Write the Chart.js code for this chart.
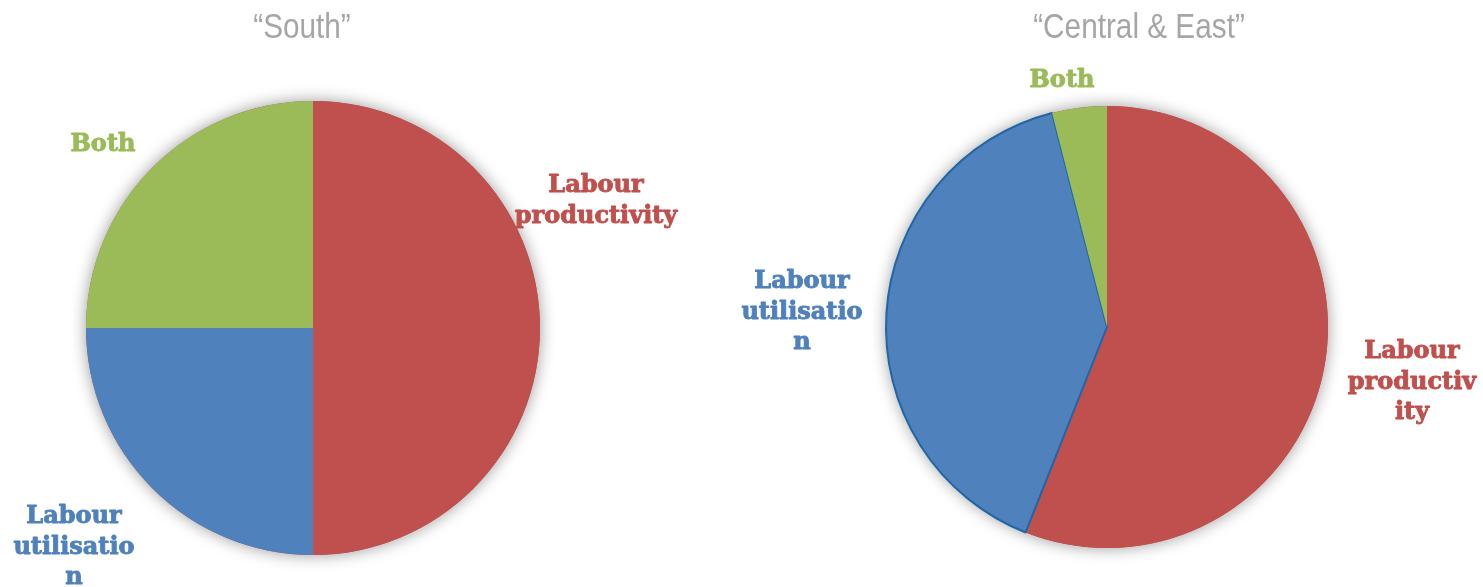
<!DOCTYPE html>
<html>
<head>
<meta charset="utf-8">
<script src="https://cdn.jsdelivr.net/npm/chart.js@4"></script>
<style>
    html, body { margin: 0; padding: 0; background: #ffffff; }
    .page { position: relative; width: 1483px; height: 587px; }
    .pie-box { position: absolute; left: 0; top: 0; width: 1483px; height: 587px; }
</style>
</head>
<body>
<div class="page">
    <div class="pie-box"><canvas id="southChart"></canvas></div>
    <div class="pie-box"><canvas id="eastChart"></canvas></div>
</div>
<script>
// slice order: productivity, utilisation, both
const categories = ["Labour productivity", "Labour utilisation", "Both"];
const southValues = [50, 25, 25];
const eastValues = [56, 40, 4];
const sliceColours = ["#C0504D", "#4F81BD", "#9BBB59"];

// wrapped label text, one entry per slice
const southLabelLines = [["Labour", "productivity"], ["Labour", "utilisatio", "n"], ["Both"]];
const eastLabelLines = [["Labour", "productiv", "ity"], ["Labour", "utilisatio", "n"], ["Both"]];

// label baselines, offset from the pie centre
const southLabelOffsets = [[283, -136], [-239, 195], [-210, -177]];
const eastLabelOffsets = [[305, 31], [-305, -39], [-45, -240]];

// draws a soft grey glow under the pie
const pieShadow = {
    id: "pieShadow",
    beforeDatasetsDraw(chart) {
        const arc = chart.getDatasetMeta(0).data[0];
        if (!arc) return;
        const ctx = chart.ctx;
        ctx.save();
        ctx.shadowColor = "rgba(0, 0, 0, 0.4)";
        ctx.shadowBlur = 16;
        ctx.fillStyle = sliceColours[0];
        ctx.beginPath();
        ctx.arc(arc.x, arc.y, arc.outerRadius, 0, Math.PI * 2);
        ctx.fill();
        ctx.restore();
    }
};

// title and slice labels, placed around the pie centre
const pieText = {
    id: "pieText",
    afterDatasetsDraw(chart, args, opts) {
        const arc = chart.getDatasetMeta(0).data[0];
        if (!arc) return;
        const ctx = chart.ctx;
        ctx.save();
        ctx.textAlign = "center";
        ctx.textBaseline = "alphabetic";

        // narrow grey title (sans squeezed horizontally)
        ctx.save();
        ctx.fillStyle = "#A6A6A6";
        ctx.font = "35px 'Liberation Sans', Arial, sans-serif";
        ctx.translate(arc.x + opts.titleShift, 38);
        ctx.scale(0.85, 1);
        ctx.fillText(opts.title, 0, 0);
        ctx.restore();

        ctx.font = "bold 24px 'DejaVu Serif', serif";
        ctx.lineWidth = 0.9;
        ctx.lineJoin = "round";
        opts.lines.forEach((lines, i) => {
            ctx.fillStyle = sliceColours[i];
            ctx.strokeStyle = sliceColours[i];
            const [dx, dy] = opts.offsets[i];
            lines.forEach((line, j) => {
                const y = arc.y + dy + j * 30.5;
                ctx.fillText(line, arc.x + dx, y);
                ctx.strokeText(line, arc.x + dx, y);
            });
        });
        ctx.restore();
    }
};

function makePie(canvasId, values, borderWidths, padding, text) {
    const ctx = document.getElementById(canvasId).getContext("2d");
    return new Chart(ctx, {
        type: "pie",
        data: {
            labels: categories,
            datasets: [{
                data: values,
                backgroundColor: sliceColours,
                borderColor: "#1F66A6",
                borderWidth: borderWidths
            }]
        },
        options: {
            responsive: true,
            maintainAspectRatio: false,
            animation: false,
            layout: { padding: padding },
            plugins: {
                legend: { display: false },
                tooltip: { enabled: false },
                pieText: text
            }
        },
        plugins: [pieShadow, pieText]
    });
}

makePie("southChart", southValues, [0, 0, 0],
    { left: 86, right: 943, top: 101, bottom: 32 },
    { title: "\u201CSouth\u201D", titleShift: -11, lines: southLabelLines, offsets: southLabelOffsets });

makePie("eastChart", eastValues, [0, 2, 0],
    { left: 885, right: 154, top: 105, bottom: 38 },
    { title: "\u201CCentral & East\u201D", titleShift: 32, lines: eastLabelLines, offsets: eastLabelOffsets });
</script>
</body>
</html>
